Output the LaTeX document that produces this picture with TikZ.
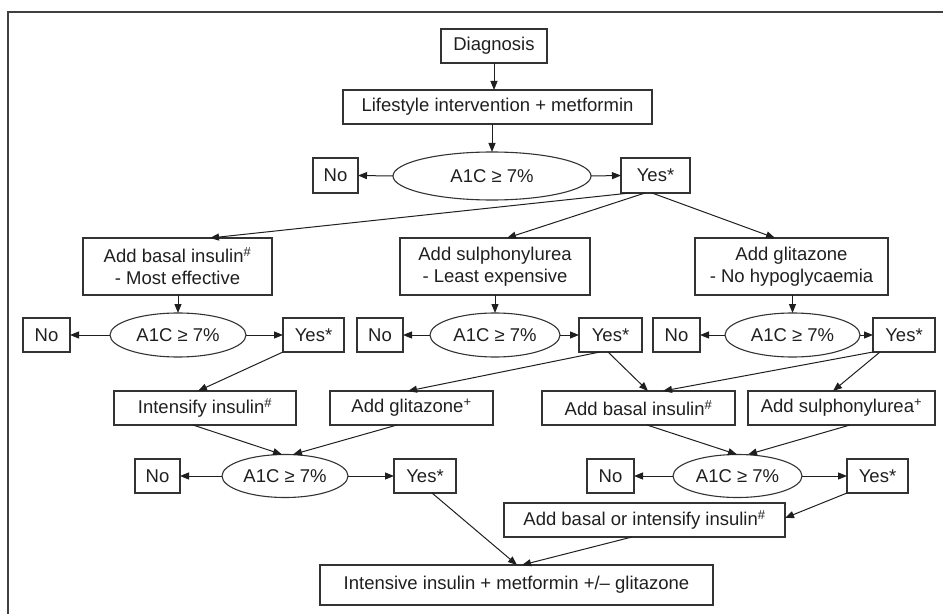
\documentclass[tikz,border=0pt]{standalone}
\usepackage{fontspec}
\setmainfont{Liberation Sans}
\usetikzlibrary{shapes.geometric,arrows.meta}
\begin{document}
\begin{tikzpicture}[x=1bp,y=-1bp,
 every node/.style={font=\fontsize{18.5bp}{22bp}\selectfont, text=black!88, inner sep=0pt, outer sep=0pt},
 bx/.style={draw=black!80, line width=1.1bp, rectangle, align=center},
 el/.style={draw=black!80, line width=1.1bp, ellipse},
 ar/.style={draw=black!88, line width=1bp, -{Triangle[length=9bp,width=7bp]}},
 frame/.style={draw=black!75, line width=1.5bp}]
\useasboundingbox (0,0) rectangle (943,614);
\draw[frame] (943,12) -- (8,12) -- (8,614);

% row 0/1
\node[bx,minimum width=106bp,minimum height=34bp] (diag) at (494,46) {Diagnosis};
\node[bx,minimum width=309bp,minimum height=34bp] (life) at (497.5,107) {Lifestyle intervention + metformin};
\node[el,minimum width=198bp,minimum height=48bp] (e1) at (492,176) {A1C ≥ 7\%};
\node[bx,minimum width=45bp,minimum height=35bp] (no1) at (335.5,175.5) {No};
\node[bx,minimum width=69bp,minimum height=35bp] (yes1) at (655.5,175.5) {Yes*};
\draw[ar] (diag.south) -- (diag.south |- life.north);
\draw[ar] (life.south -| e1.north) -- (e1.north);
\draw[ar] (e1.west) -- (no1.east);
\draw[ar] (e1.east) -- (yes1.west);

% row 2
\node[bx,minimum width=189bp,minimum height=57bp] (b1) at (177.5,266.5) {Add basal insulin\textsuperscript{\#}\\- Most effective};
\node[bx,minimum width=190bp,minimum height=57bp] (b2) at (495,266.5) {Add sulphonylurea\\- Least expensive};
\node[bx,minimum width=193bp,minimum height=57bp] (b3) at (791.5,266.5) {Add glitazone\\- No hypoglycaemia};
\draw[ar] ([xshift=-25.5bp]yes1.south) -- ([xshift=32.5bp]b1.north);
\draw[ar] ([xshift=-10.5bp]yes1.south) -- ([xshift=12bp]b2.north);
\draw[ar] ([xshift=-3.5bp]yes1.south) -- ([xshift=-16.5bp]b3.north);

% row 3
\node[bx,minimum width=47bp,minimum height=34bp] (no2) at (46.5,335) {No};
\node[el,minimum width=136bp,minimum height=44bp] (e2) at (178,335) {A1C ≥ 7\%};
\node[bx,minimum width=61bp,minimum height=34bp] (yes2) at (313.5,335) {Yes*};
\node[bx,minimum width=46bp,minimum height=34bp] (no3) at (380,335) {No};
\node[el,minimum width=130bp,minimum height=44bp] (e3) at (495,335) {A1C ≥ 7\%};
\node[bx,minimum width=63bp,minimum height=34bp] (yes3) at (610.5,335) {Yes*};
\node[bx,minimum width=47bp,minimum height=34bp] (no4) at (676.5,335) {No};
\node[el,minimum width=135bp,minimum height=44bp] (e4) at (792.5,335) {A1C ≥ 7\%};
\node[bx,minimum width=62bp,minimum height=34bp] (yes4) at (904,335) {Yes*};
\draw[ar] (b1.south -| e2.north) -- (e2.north);
\draw[ar] (b2.south -| e3.north) -- (e3.north);
\draw[ar] (b3.south -| e4.north) -- (e4.north);
\draw[ar] (e2.west) -- (no2.east);
\draw[ar] (e2.east) -- (yes2.west);
\draw[ar] (e3.west) -- (no3.east);
\draw[ar] (e3.east) -- (yes3.west);
\draw[ar] (e4.west) -- (no4.east);
\draw[ar] (e4.east) -- (yes4.west);

% row 4
\node[bx,minimum width=182bp,minimum height=34bp] (c1) at (205,408) {Intensify insulin\textsuperscript{\#}};
\node[bx,minimum width=163bp,minimum height=34bp] (c2) at (411.5,408) {Add glitazone\textsuperscript{+}};
\node[bx,minimum width=193bp,minimum height=34bp] (c3) at (638.5,408) {Add basal insulin\textsuperscript{\#}};
\node[bx,minimum width=187bp,minimum height=34bp] (c4) at (841.5,408) {Add sulphonylurea\textsuperscript{+}};
\draw[ar] (yes2.south west) -- ([xshift=-7bp]c1.north);
\draw[ar] ([xshift=-10.5bp]yes3.south) -- ([xshift=-3.5bp]c2.north);
\draw[ar] ([xshift=-2.5bp]yes3.south) -- ([xshift=9.5bp]c3.north);
\draw[ar] (yes4.south west) -- ([xshift=24.5bp]c3.north);
\draw[ar] ([xshift=-24bp]yes4.south) -- ([xshift=-8.5bp]c4.north);

% row 5
\node[bx,minimum width=45bp,minimum height=34bp] (no5) at (157.5,476) {No};
\node[el,minimum width=126bp,minimum height=43bp] (e5) at (285,476) {A1C ≥ 7\%};
\node[bx,minimum width=62bp,minimum height=34bp] (yes5) at (425,476) {Yes*};
\node[bx,minimum width=47bp,minimum height=34bp] (no6) at (610.5,476) {No};
\node[el,minimum width=129bp,minimum height=43bp] (e6) at (737.5,476) {A1C ≥ 7\%};
\node[bx,minimum width=61bp,minimum height=34bp] (yes6) at (877.5,476) {Yes*};
\draw[ar] ([xshift=-12bp]c1.south) -- ([xshift=-3bp]e5.north);
\draw[ar] ([xshift=-14.5bp]c2.south) -- ([xshift=8bp]e5.north);
\draw[ar] ([xshift=8.5bp]c3.south) -- ([xshift=-0.5bp]e6.north);
\draw[ar] ([xshift=8.5bp]c4.south) -- ([xshift=10.5bp]e6.north);
\draw[ar] (e5.west) -- (no5.east);
\draw[ar] (e5.east) -- (yes5.west);
\draw[ar] (e6.west) -- (no6.east);
\draw[ar] (e6.east) -- (yes6.west);

% rows 6/7
\node[bx,minimum width=281bp,minimum height=34bp] (d1) at (644.5,520) {Add basal or intensify insulin\textsuperscript{\#}};
\node[bx,minimum width=393bp,minimum height=40bp] (f) at (516.5,585) {Intensive insulin + metformin +/\textendash{} glitazone};
\draw[ar] (yes6.south west) -- ([yshift=2bp]d1.east);
\draw[ar] ([xshift=7bp]yes5.south) -- ([xshift=0.5bp]f.north);
\draw[ar] ([xshift=-12.5bp]d1.south) -- ([xshift=5.5bp]f.north);
\end{tikzpicture}
\end{document}
